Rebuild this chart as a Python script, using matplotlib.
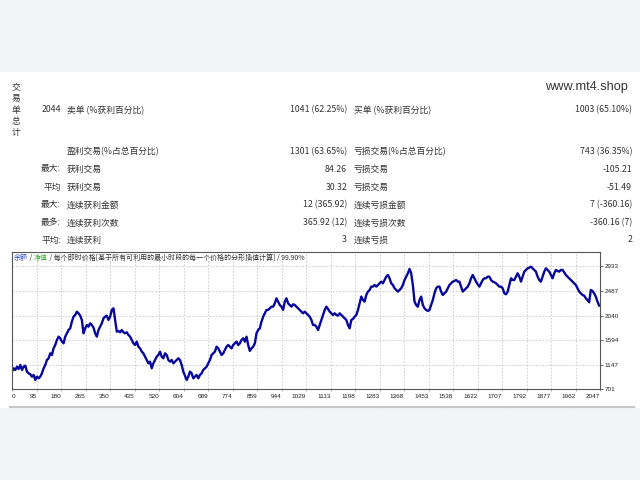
import matplotlib
matplotlib.use('Agg')
import matplotlib.pyplot as plt
import numpy as np
from matplotlib.lines import Line2D
from matplotlib.patches import Rectangle

plt.rcParams['font.family'] = ['Noto Sans CJK SC', 'DejaVu Sans']

# ---------------- data ----------------
total_trades = 2044

balance = [
    1017, 1078, 1048, 1108, 1066, 1139, 1048, 1108, 1127, 1017, 987, 969, 926, 957, 865, 926, 896, 926, 987, 1078,
    1139, 1230, 1260, 1351, 1321, 1442, 1503, 1594, 1655, 1625, 1564, 1533, 1655, 1716, 1776, 1807, 1928, 2019, 2050, 2110,
    2080, 2038, 1959, 1716, 1807, 1867, 1837, 1898, 1867, 1819, 1716, 1655, 1776, 1837, 1898, 1989, 2019, 2038, 1959, 2019,
    2141, 2171, 1959, 1746, 1758, 1734, 1776, 1734, 1716, 1734, 1685, 1655, 1594, 1533, 1503, 1564, 1473, 1442, 1382, 1351,
    1290, 1230, 1169, 1199, 1078, 1169, 1230, 1290, 1321, 1382, 1290, 1260, 1351, 1321, 1230, 1199, 1230, 1169, 1199, 1230,
    1260, 1230, 1139, 1017, 944, 865, 926, 1017, 987, 896, 926, 957, 896, 957, 987, 1048, 1078, 1108, 1169, 1230,
    1321, 1351, 1382, 1473, 1442, 1382, 1321, 1351, 1412, 1473, 1503, 1473, 1442, 1503, 1533, 1564, 1503, 1533, 1594, 1625,
    1564, 1655, 1503, 1394, 1442, 1473, 1533, 1716, 1776, 1807, 1928, 2019, 2080, 2141, 2141, 2171, 2201, 2201, 2262, 2353,
    2293, 2232, 2201, 2141, 2293, 2353, 2262, 2232, 2201, 2244, 2232, 2201, 2171, 2141, 2110, 2080, 2110, 2080, 2050, 2019,
    1959, 1867, 1867, 1837, 1776,
    1867, 1959, 2050, 2141, 2201, 2159, 2110, 2080, 2050, 2080, 2050, 2038, 2080, 2050, 2019, 1989, 1959, 1867, 1807, 1959,
    1977, 2019, 2050, 2141, 2262, 2384, 2323, 2293, 2414, 2475, 2505, 2566, 2566, 2596, 2566, 2596, 2627, 2657, 2627, 2687,
    2748, 2778, 2718, 2627, 2596, 2536, 2505, 2475, 2505, 2536, 2596, 2687, 2748, 2809, 2888, 2809, 2596, 2293, 2232, 2201,
    2323, 2384, 2232, 2171, 2141, 2123, 2141, 2232, 2323, 2444, 2536, 2566, 2566, 2475, 2414, 2444, 2475, 2536, 2596, 2627,
    2657, 2669, 2687, 2657, 2657, 2566, 2475, 2505, 2536, 2566, 2627, 2718, 2778, 2718, 2657, 2608, 2566, 2627, 2687, 2718,
    2718, 2748, 2748, 2687, 2657, 2645, 2627, 2596, 2566, 2566, 2536, 2444, 2426, 2475, 2596, 2718, 2687, 2687, 2748, 2809,
    2748, 2657, 2748, 2839, 2870, 2900, 2912, 2930, 2900, 2870, 2839, 2748, 2687, 2657, 2748, 2839, 2900, 2870, 2839, 2778,
    2718, 2809, 2870, 2851, 2839, 2870, 2870, 2827, 2778, 2748, 2718, 2687, 2657, 2627, 2596, 2536, 2475, 2444, 2414, 2402,
    2353, 2323, 2280, 2505, 2487, 2444, 2384, 2293, 2220,
]

x_tick_labels = ["0", "95", "180", "265", "350", "435", "520", "604", "689", "774", "859", "944", "1029",
                 "1113", "1198", "1283", "1368", "1453", "1538", "1622", "1707", "1792", "1877", "1962", "2047"]
y_ticks = [701, 1147, 1594, 2040, 2487, 2933]
x_max = 2047
y_max = 3197

chart_title = [("余额", '#3050c8'), (" / ", '#333333'), ("净值", '#30b030'),
               (" / 每个即时价格[基于所有可利用的最小时段的每一个价格的分形插值计算] / 99.90%", '#333333')]

row_prefix = ["2044", "", "最大:", "平均", "最大:", "最多:", "平均:"]
left_labels = ["卖单 (%获利百分比)", "盈利交易(%占总百分比)", "获利交易", "获利交易",
               "连续获利金额", "连续获利次数", "连续获利"]
left_values = ["1041 (62.25%)", "1301 (63.65%)", "84.26", "30.32", "12 (365.92)", "365.92 (12)", "3"]
right_labels = ["买单 (%获利百分比)", "亏损交易(%占总百分比)", "亏损交易", "亏损交易",
                "连续亏损金额", "连续亏损次数", "连续亏损"]
right_values = ["1003 (65.10%)", "743 (36.35%)", "-105.21", "-51.49", "7 (-360.16)", "-360.16 (7)", "2"]
side_title = "交易单总计"
site = "www.mt4.shop"

# ---------------- layout ----------------
W, H = 640, 480
fig = plt.figure(figsize=(6.4, 4.8), dpi=100, facecolor='white')


def fx(x):
    return x / W


def fy(y):
    return 1 - y / H


fig.patches.append(Rectangle((0, fy(72)), 1, 72 / H, transform=fig.transFigure,
                             facecolor='#f3f4f6', edgecolor='none', zorder=0))
fig.patches.append(Rectangle((0, 0), 1, fy(408), transform=fig.transFigure,
                             facecolor='#f2f3f5', edgecolor='none', zorder=0))
seg_edges = [9, 51, 184, 227, 271, 311, 377, 442, 507, 570, 635]
for a, b in zip(seg_edges[:-1], seg_edges[1:]):
    fig.lines.append(Line2D([fx(a + 1), fx(b - 1)], [fy(406.5), fy(406.5)], transform=fig.transFigure,
                            color='#c6c6c6', lw=1.5))

txt_color = '#333333'
fs = 6.3
row_y = [110, 152, 169, 187, 205, 223, 240]
for i, y in enumerate(row_y):
    fig.text(fx(61), fy(y), row_prefix[i], ha='right', va='center', fontsize=fs, color=txt_color)
    fig.text(fx(67), fy(y), left_labels[i], ha='left', va='center', fontsize=fs, color=txt_color)
    fig.text(fx(347), fy(y), left_values[i], ha='right', va='center', fontsize=fs, color=txt_color)
    fig.text(fx(354), fy(y), right_labels[i], ha='left', va='center', fontsize=fs, color=txt_color)
    fig.text(fx(632), fy(y), right_values[i], ha='right', va='center', fontsize=fs, color=txt_color)

fig.text(fx(16), fy(110), "\n".join(side_title), ha='center', va='center', fontsize=fs,
         color=txt_color, linespacing=1.3)
fig.text(fx(628), fy(87), site, ha='right', va='center', fontsize=9.2,
         family=['Liberation Sans', 'DejaVu Sans'], color='#333333')

# ---------------- chart ----------------
ax = fig.add_axes([fx(12), fy(389), (600 - 12) / W, (389 - 252) / H])
ax.set_facecolor('white')
x = np.linspace(0, total_trades, len(balance))
ax.plot(x, balance, color='#08089c', lw=1.7, solid_joinstyle='round')
ax.set_xlim(0, x_max)
ax.set_ylim(y_ticks[0], y_max)

ax.set_xticks(np.linspace(0, x_max, len(x_tick_labels)))
ax.set_xticklabels(x_tick_labels, fontsize=4.6, family=['Liberation Sans', 'DejaVu Sans'], color='#222222')
for i, lab in enumerate(ax.get_xticklabels()):
    lab.set_ha('left' if i == 0 else 'right')
ax.tick_params(axis='x', length=1.5, pad=2, color='#999999', width=0.5)

ax.yaxis.tick_right()
ax.set_yticks(y_ticks)
ax.set_yticklabels([str(v) for v in y_ticks], fontsize=4.6, family=['Liberation Sans', 'DejaVu Sans'],
                   color='#222222')
ax.tick_params(axis='y', length=2, pad=1.5, color='#555555', width=0.6)

ax.grid(True, color='#c8c8c8', ls=(0, (2, 2)), lw=0.6)
ax.set_axisbelow(True)
for s in ax.spines.values():
    s.set_color('#555555')
    s.set_linewidth(0.8)

# multi-coloured chart caption
fig.canvas.draw()
renderer = fig.canvas.get_renderer()
cur_x = 14
for text, col in chart_title:
    t = fig.text(fx(cur_x), fy(258), text, ha='left', va='center', fontsize=5, color=col)
    bb = t.get_window_extent(renderer=renderer)
    cur_x += bb.width

fig.savefig('out.png', dpi=100, facecolor='white')
